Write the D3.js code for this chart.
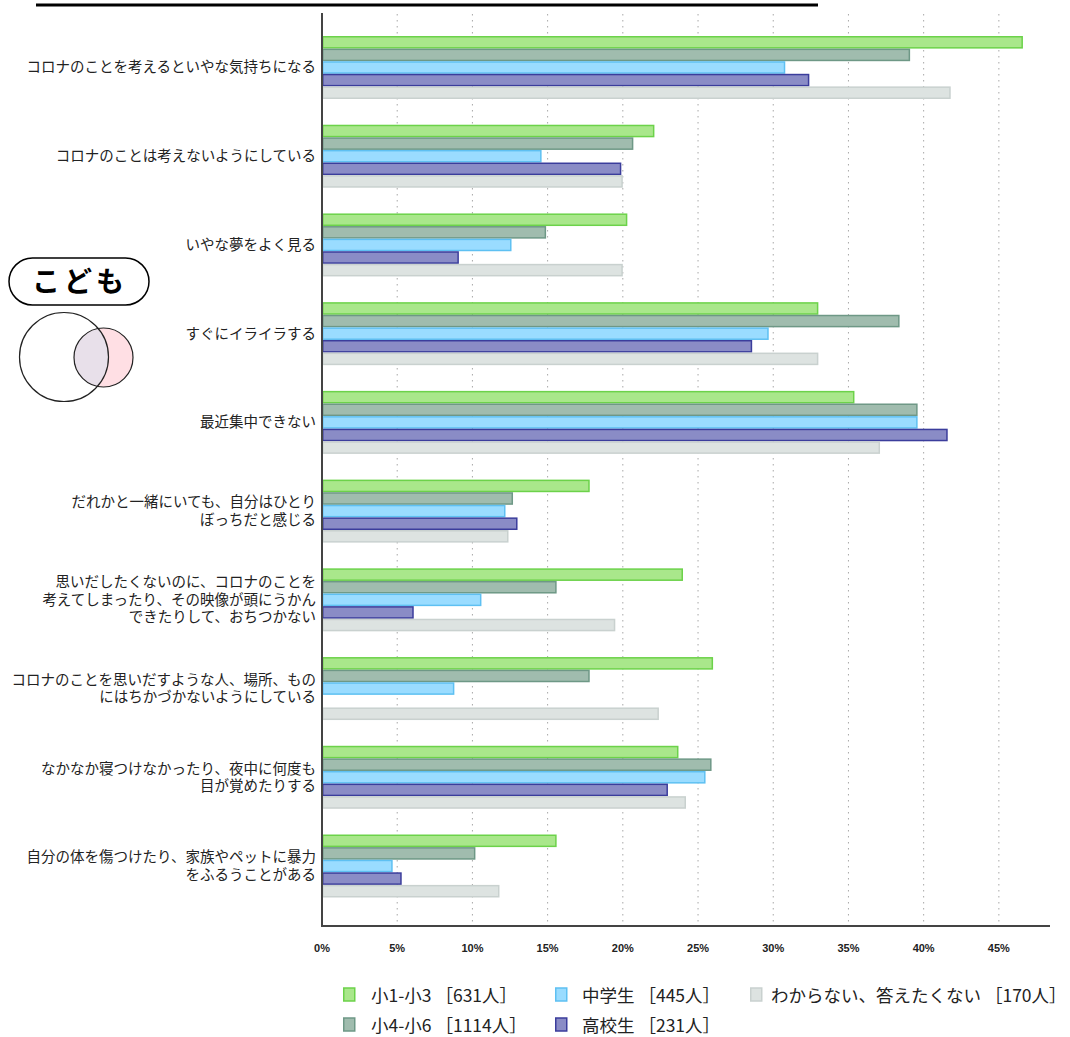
<!DOCTYPE html>
<html><head><meta charset="utf-8">
<script src="https://cdn.jsdelivr.net/npm/d3@7"></script>
<style>body{margin:0;background:#fff}svg{display:block}</style>
</head><body>
<svg id="c" width="1070" height="1037"></svg>
<script>
const categories = [
  ["コロナのことを考えるといやな気持ちになる"],
  ["コロナのことは考えないようにしている"],
  ["いやな夢をよく見る"],
  ["すぐにイライラする"],
  ["最近集中できない"],
  ["だれかと一緒にいても、自分はひとり","ぼっちだと感じる"],
  ["思いだしたくないのに、コロナのことを","考えてしまったり、その映像が頭にうかん","できたりして、おちつかない"],
  ["コロナのことを思いだすような人、場所、もの","にはちかづかないようにしている"],
  ["なかなか寝つけなかったり、夜中に何度も","目が覚めたりする"],
  ["自分の体を傷つけたり、家族やペットに暴力","をふるうことがある"]
];
const seriesNames = ["小1-小3 ［631人］","小4-小6 ［1114人］","中学生 ［445人］","高校生 ［231人］","わからない、答えたくない ［170人］"];
const s1 = [46.6,22.1,20.3,33.0,35.4,17.8,24.0,26.0,23.7,15.6];
const s2 = [39.1,20.7,14.9,38.4,39.6,12.7,15.6,17.8,25.9,10.2];
const s3 = [30.8,14.6,12.6,29.7,39.6,12.2,10.6,8.8,25.5,4.7];
const s4 = [32.4,19.9,9.1,28.6,41.6,13.0,6.1,0,23.0,5.3];
const s5 = [41.8,20.0,20.0,33.0,37.1,12.4,19.5,22.4,24.2,11.8];
const xTicks = [0,5,10,15,20,25,30,35,40,45];
const fills = ["#a9e78b","#a0bcae","#9adcff","#8a8cc6","#dde3e1"];
const strokes = ["#6cd24a","#6e9886","#5ec0f2","#3b3d9c","#c9d1cf"];
const series = [s1,s2,s3,s4,s5];

const svg = d3.select("#c");
const x = d3.scaleLinear().domain([0,48.4]).range([322,1050]);
const y = d3.scaleBand().domain(d3.range(categories.length)).range([36,897.5]).paddingInner(0.29).paddingOuter(0);
const ys = d3.scaleBand().domain(d3.range(series.length)).range([0,y.bandwidth()]);

// top rule
svg.append("line").attr("x1",36).attr("x2",818).attr("y1",5).attr("y2",5).attr("stroke","#000").attr("stroke-width",3);

// grid
svg.append("g").selectAll("line").data(xTicks.filter(d=>d>0)).join("line")
  .attr("x1",d=>x(d)).attr("x2",d=>x(d)).attr("y1",14).attr("y2",925)
  .attr("stroke","#a8a8a8").attr("stroke-width",1).attr("stroke-dasharray","1.5,4.5");

// bars
const g = svg.append("g");
categories.forEach((c,i)=>{
  series.forEach((s,j)=>{
    if (s[i] <= 0) return;
    g.append("rect")
      .attr("x",x(0)+0.75).attr("y",y(i)+ys(j)+0.75)
      .attr("width",x(s[i])-x(0)-1.5).attr("height",ys.bandwidth()-1.5)
      .attr("fill",fills[j]).attr("stroke",strokes[j]).attr("stroke-width",1.5);
  });
});

// axes
svg.append("line").attr("x1",322).attr("x2",322).attr("y1",13).attr("y2",926).attr("stroke","#444").attr("stroke-width",2);
svg.append("line").attr("x1",321).attr("x2",1050).attr("y1",926).attr("y2",926).attr("stroke","#444").attr("stroke-width",2);

// tick labels
svg.append("g").selectAll("text").data(xTicks).join("text")
  .attr("x",d=>x(d)).attr("y",952).attr("text-anchor","middle")
  .attr("font-family","Liberation Sans, Arial, sans-serif").attr("font-weight","bold").attr("font-size",11).attr("fill","#222")
  .text(d=>d+"%");

// category labels
categories.forEach((lines,i)=>{
  const cy = y(i)+y.bandwidth()/2;
  const lh = 17.5;
  lines.forEach((l,k)=>{
    svg.append("text").attr("text-anchor","end")
      .attr("font-family","Noto Sans CJK JP, sans-serif").attr("font-size",14.5).attr("fill","#222")
      .attr("x",316).attr("y",cy + (k-(lines.length-1)/2)*lh + 5).text(l);
  });
});

// badge
svg.append("rect").attr("x",9).attr("y",258).attr("width",140).attr("height",47).attr("rx",23.5)
  .attr("fill","#fff").attr("stroke","#000").attr("stroke-width",1.5);
svg.append("text").attr("x",80).attr("y",292).attr("text-anchor","middle")
  .attr("font-family","Noto Sans CJK JP, sans-serif").attr("font-weight","bold").attr("font-size",28).attr("letter-spacing",4).attr("fill","#000").text("こども");

// venn
const defs = svg.append("defs");
defs.append("clipPath").attr("id","bigc").append("circle").attr("cx",64).attr("cy",357).attr("r",44.5);
svg.append("circle").attr("cx",103.5).attr("cy",357.5).attr("r",29.5).attr("fill","#ffdfe4");
svg.append("circle").attr("cx",103.5).attr("cy",357.5).attr("r",29.5).attr("fill","#e8e0ea").attr("clip-path","url(#bigc)");
svg.append("circle").attr("cx",64).attr("cy",357).attr("r",44.5).attr("fill","none").attr("stroke","#222").attr("stroke-width",1.2);
svg.append("circle").attr("cx",103.5).attr("cy",357.5).attr("r",29.5).attr("fill","none").attr("stroke","#222").attr("stroke-width",1.2);

// legend
const legPos = [[343,995],[555,995],[750,995],[343,1025],[555,1025]];
const legTextX = [371,582,771,371,582];
const legOrder = [0,2,4,1,3];
legOrder.forEach((si,k)=>{
  const [lx,ly] = legPos[k];
  svg.append("rect").attr("x",lx+0.75).attr("y",ly-7).attr("width",11).attr("height",13)
    .attr("fill",fills[si]).attr("stroke",strokes[si]).attr("stroke-width",1.5);
  svg.append("text").attr("x",legTextX[k]).attr("y",ly+6.5)
    .attr("font-family","Noto Sans CJK JP, sans-serif").attr("font-size",17.5).attr("fill","#222")
    .text(seriesNames[si]);
});
</script>
</body></html>
